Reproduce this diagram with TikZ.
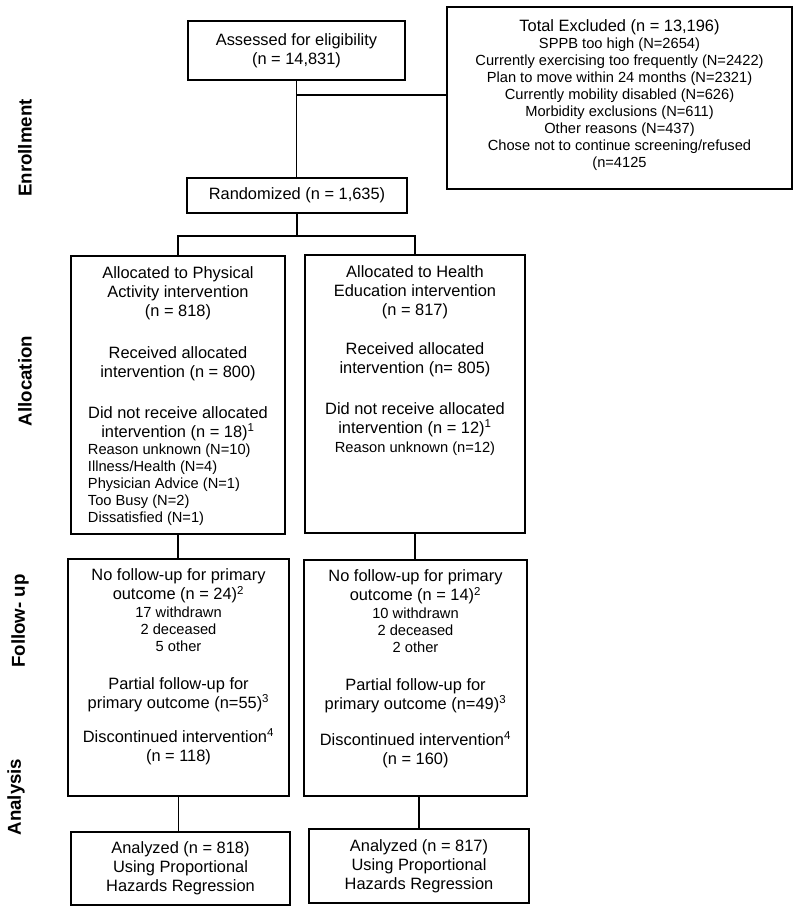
\documentclass[tikz,border=0pt]{standalone}
\usepackage{fontspec}
\setmainfont{Liberation Sans}
\usetikzlibrary{positioning}
\newcommand\mainsize{\fontsize{12.3}{14.25}\selectfont}
\newcommand\smallsize{\fontsize{11}{12.8}\selectfont}

\begin{document}
\begin{tikzpicture}[x=0.75pt, y=-0.75pt,
    box/.style={draw, line width=0.9pt, inner sep=0pt},
    body/.style={font=\mainsize, align=center, inner sep=0pt},
    note/.style={font=\smallsize, align=left, inner sep=0pt},
    phase/.style={font=\fontsize{14}{16}\selectfont\bfseries, rotate=90, inner sep=0pt},
    link/.style={line width=0.9pt}]
  \useasboundingbox (0,0) rectangle (800,913);
  % phase labels
  \node[phase] (enroll) at (25,148) {Enrollment};
  \node[phase] (alloc) at (25,381) {Allocation};
  \node[phase] (follow) at (20,621) {Follow- up};
  \node[phase] (analysis) at (16,797) {Analysis};
  % enrollment
  \node[box, body, minimum width=162.75pt, minimum height=44.25pt] (assess) at (296.5,50.5) {Assessed for eligibility\\(n = 14,831)};
  \node[box, minimum width=258.75pt, minimum height=136.5pt] (excl) at (619.5,98) {};
  \node[body, font=\smallsize, anchor=north] (excltxt) at (619.5,19) {\mainsize Total Excluded (n = 13,196)\\
    SPPB too high (N=2654)\\
    Currently exercising too frequently (N=2422)\\
    Plan to move within 24 months (N=2321)\\
    Currently mobility disabled (N=626)\\
    Morbidity exclusions (N=611)\\
    Other reasons (N=437)\\
    Chose not to continue screening/refused\\
    (n=4125};
  \node[box, body, minimum width=165pt, minimum height=26.25pt] (rand) at (297,195.5) {Randomized (n = 1,635)};
  % allocation
  \node[box, minimum width=160.5pt, minimum height=208.5pt] (pa) at (178,395) {};
  \node[body, anchor=north] (patxt) at (178,266) {Allocated to Physical\\Activity intervention\\(n = 818)\\[17.5pt]
    Received allocated\\intervention (n = 800)\\[16.5pt]
    Did not receive allocated\\intervention (n = 18)\textsuperscript{1}};
  \node[note, anchor=north west] (pareason) at (87.7,443.3) {Reason unknown (N=10)\\Illness/Health (N=4)\\Physician Advice (N=1)\\Too Busy (N=2)\\Dissatisfied (N=1)};
  \node[box, minimum width=165pt, minimum height=208.5pt] (he) at (415,394) {};
  \node[body, anchor=north] (hetxt) at (415,265) {Allocated to Health\\Education intervention\\(n = 817)\\[15pt]
    Received allocated\\intervention (n= 805)\\[16.75pt]
    Did not receive allocated\\intervention (n = 12)\textsuperscript{1}\\
    \smallsize Reason unknown (n=12)};
  % follow-up
  \node[box, minimum width=165.75pt, minimum height=177.75pt] (paf) at (178.5,677.5) {};
  \node[body, anchor=north] (paftxt) at (178.5,568.7) {No follow-up for primary\\outcome (n = 24)\textsuperscript{2}\\[-1pt]
    \smallsize 17 withdrawn\\[-1.5pt]\smallsize 2 deceased\\[-1.5pt]\smallsize 5 other\\[14pt]
    Partial follow-up for\\primary outcome (n=55)\textsuperscript{3}\\[11.5pt]
    Discontinued intervention\textsuperscript{4}\\(n = 118)};
  \node[box, minimum width=167.25pt, minimum height=177pt] (hef) at (415.5,678) {};
  \node[body, anchor=north] (heftxt) at (415.5,569.7) {No follow-up for primary\\outcome (n = 14)\textsuperscript{2}\\[-1pt]
    \smallsize 10 withdrawn\\[-1.5pt]\smallsize 2 deceased\\[-1.5pt]\smallsize 2 other\\[14pt]
    Partial follow-up for\\primary outcome (n=49)\textsuperscript{3}\\[12.75pt]
    Discontinued intervention\textsuperscript{4}\\(n = 160)};
  % analysis
  \node[box, body, minimum width=164.25pt, minimum height=54.75pt] (paa) at (180.5,868.5) {Analyzed (n = 818)\\Using Proportional\\Hazards Regression};
  \node[box, body, minimum width=165pt, minimum height=55.5pt] (hea) at (419,866) {Analyzed (n = 817)\\Using Proportional\\Hazards Regression};
  % connectors
  \coordinate (exclsplit) at (assess.south |- 0,95);
  \coordinate (randsplit) at (rand.south |- 0,236);
  \draw[link] (assess.south) -- (assess.south |- rand.north);
  \draw[link] (exclsplit) -- (exclsplit -| excl.west);
  \draw[link] (rand.south) -- (randsplit);
  \draw[link] (pa.north) |- (randsplit) -| (he.north);
  \draw[link] (pa.south) -- (pa.south |- paf.north);
  \draw[link] (he.south) -- (he.south |- hef.north);
  \draw[link] (paf.south) -- (paf.south |- paa.north);
  \draw[link] (hea.north |- hef.south) -- (hea.north);
\end{tikzpicture}
\end{document}
